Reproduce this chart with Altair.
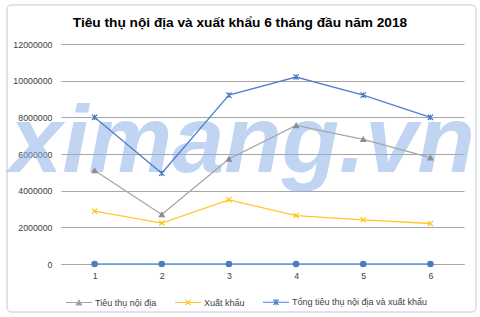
import altair as alt
import pandas as pd

# ---- data ----
months = [1, 2, 3, 4, 5, 6]
noi_dia = [5100000, 2700000, 5730000, 7560000, 6800000, 5800000]
xuat_khau = [2880000, 2230000, 3500000, 2640000, 2410000, 2210000]
tong = [8000000, 4950000, 9210000, 10200000, 9210000, 8000000]
chuoi_0 = [0, 0, 0, 0, 0, 0]

names = ["Tiêu thụ nội địa", "Xuất khẩu", "Tổng tiêu thụ nội địa và xuất khẩu"]
zero_name = "Chuỗi 4"
all_names = names + [zero_name]
y_ticks = [0, 2000000, 4000000, 6000000, 8000000, 10000000, 12000000]
title_text = "Tiêu thụ nội địa và xuất khẩu 6 tháng đầu năm 2018"
watermark = "ximang.vn"

# ---- styles ----
line_colors = ["#a6a6a6", "#ffc72c", "#4f7fcf", "#5b9bd5"]
marker_stroke = ["#8c8c8c", "#ffc000", "#4472c4", "#4a7ebb"]
marker_fill = ["#8c8c8c", "#ffc000", "#4472c4", "#4a7ebb"]
marker_shapes = ["triangle-up", "M-1,-1L1,1M-1,1L1,-1", "M-1,-1L1,1M-1,1L1,-1M0,-1L0,1", "circle"]
marker_sizes = [26, 30, 34, 14]
legend_shapes = [
    "M-1,0H1M-0.2,0.18L0,-0.18L0.2,0.18Z",
    "M-1,0H1M-0.2,-0.2L0.2,0.2M-0.2,0.2L0.2,-0.2",
    "M-1,0H1M-0.2,-0.2L0.2,0.2M-0.2,0.2L0.2,-0.2M0,-0.24L0,0.24",
]

rows = []
for name, vals in zip(all_names, [noi_dia, xuat_khau, tong, chuoi_0]):
    for m, v in zip(months, vals):
        rows.append({"month": m, "series": name, "value": v})
df = pd.DataFrame(rows)

FONT = "Liberation Sans"

x_enc = alt.X(
    "month:O",
    scale=alt.Scale(type="point", padding=0.5),
    axis=alt.Axis(title=None, labelAngle=0, ticks=False, tickSize=0, labelPadding=7,
                  domainColor="#a6a6a6", labelFont=FONT, labelFontSize=8.8, labelColor="#404040"),
)
y_enc = alt.Y(
    "value:Q",
    scale=alt.Scale(domain=[0, 12000000], nice=False),
    axis=alt.Axis(title=None, values=y_ticks, format="d", ticks=False, tickSize=0, domain=False,
                  labelPadding=9, gridColor="#a6a6a6", gridWidth=1, labelFont=FONT,
                  labelFontSize=8.8, labelColor="#404040"),
)

border = alt.Chart(pd.DataFrame({"k": [0]})).mark_rect(
    fill="transparent", stroke="#bfc9d3", strokeWidth=1, cornerRadius=4
).encode(x=alt.value(-54), x2=alt.value(415), y=alt.value(-39), y2=alt.value(268))

title_layer = alt.Chart(pd.DataFrame({"t": [title_text]})).mark_text(
    font=FONT, fontSize=13.7, fontWeight="bold", color="#000000", align="center", baseline="alphabetic"
).encode(text="t:N", x=alt.value(179), y=alt.value(-17.5))

wm = alt.Chart(pd.DataFrame({"t": [watermark]})).mark_text(
    font=FONT, fontSize=94, fontWeight="bold", fontStyle="italic", align="left",
    baseline="alphabetic", color="#8fb4ea", opacity=0.55
).encode(text="t:N", x=alt.value(-51), y=alt.value(128))

lines = alt.Chart(df).mark_line(strokeWidth=1.3).encode(
    x=x_enc, y=y_enc,
    color=alt.Color("series:N", scale=alt.Scale(domain=all_names, range=line_colors), legend=None),
)

points = alt.Chart(df).mark_point(strokeWidth=1.1, opacity=1).encode(
    x=x_enc, y=y_enc,
    shape=alt.Shape("series:N", scale=alt.Scale(domain=all_names, range=marker_shapes), legend=None),
    stroke=alt.Stroke("series:N", scale=alt.Scale(domain=all_names, range=marker_stroke), legend=None),
    fill=alt.Fill("series:N", scale=alt.Scale(domain=all_names, range=marker_fill), legend=None),
    size=alt.Size("series:N", scale=alt.Scale(domain=all_names, range=marker_sizes), legend=None),
)

leg = alt.Legend(title=None)
legend_layer = alt.Chart(pd.DataFrame({"series": names})).transform_filter("false").mark_point(
    strokeWidth=1.2, opacity=1
).encode(
    shape=alt.Shape("series:N", scale=alt.Scale(domain=names, range=legend_shapes), legend=leg),
    stroke=alt.Stroke("series:N", scale=alt.Scale(domain=names, range=line_colors[:3]), legend=leg),
    fill=alt.Fill("series:N", scale=alt.Scale(domain=names, range=marker_fill[:3]), legend=leg),
)

chart = alt.layer(border, title_layer, wm, lines, points, legend_layer).resolve_scale(
    shape="independent", stroke="independent", fill="independent"
).properties(
    width=403, height=220,
    autosize="none",
    padding={"left": 61, "top": 44, "right": 16, "bottom": 53},
).configure_view(strokeWidth=0).configure_legend(
    orient="none", legendX=4, legendY=244, direction="horizontal", symbolSize=676,
    symbolStrokeWidth=1.2, labelFont=FONT, labelFontSize=9, labelColor="#404040",
    labelOffset=2, columnPadding=15, padding=0, symbolOpacity=1
)

chart.save("out.html", embed_options={"renderer": "svg", "actions": False})
